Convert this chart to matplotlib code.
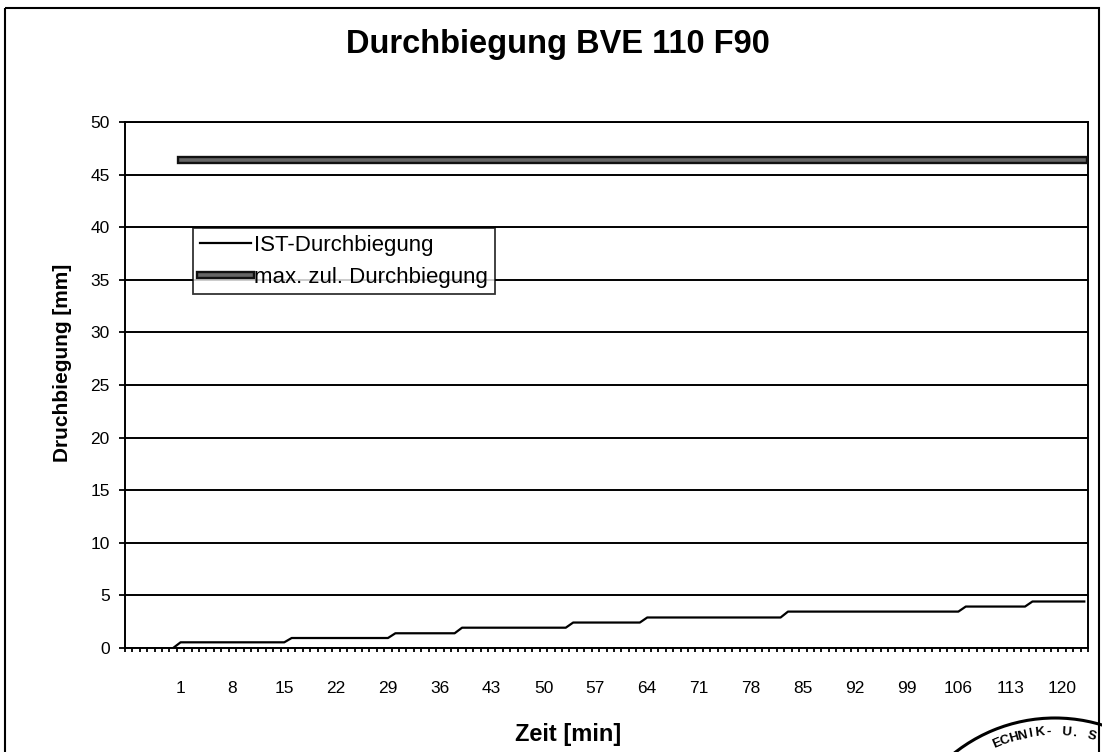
import numpy
import matplotlib
matplotlib.use("Agg")
import matplotlib.pyplot as plt
import matplotlib.patheffects as pe
from matplotlib.patches import Rectangle, Arc

plt.rcParams['font.family'] = ['Liberation Sans', 'DejaVu Sans']

#categories on the time axis (first 7 have no label)
lCategories = list(range(-6, 124))
lTickCats = list(range(1, 121, 7))
lTickLabels = [str(c) for c in lTickCats]

#measured deflection [mm], categories 0..123
lIstCats = list(range(0, 124))
lIstValues = [0.0,
	0.54, 0.54, 0.54, 0.54, 0.54, 0.54, 0.54, 0.54, 0.54, 0.54, 0.54, 0.54, 0.54, 0.54, 0.54,
	0.95, 0.95, 0.95, 0.95, 0.95, 0.95, 0.95, 0.95, 0.95, 0.95, 0.95, 0.95, 0.95, 0.95,
	1.40, 1.40, 1.40, 1.40, 1.40, 1.40, 1.40, 1.40, 1.40,
	1.93, 1.93, 1.93, 1.93, 1.93, 1.93, 1.93, 1.93, 1.93, 1.93, 1.93, 1.93, 1.93, 1.93, 1.93,
	2.42, 2.42, 2.42, 2.42, 2.42, 2.42, 2.42, 2.42, 2.42, 2.42,
	2.90, 2.90, 2.90, 2.90, 2.90, 2.90, 2.90, 2.90, 2.90, 2.90, 2.90, 2.90, 2.90, 2.90, 2.90, 2.90, 2.90, 2.90, 2.90,
	3.46, 3.46, 3.46, 3.46, 3.46, 3.46, 3.46, 3.46, 3.46, 3.46, 3.46, 3.46,
	3.46, 3.46, 3.46, 3.46, 3.46, 3.46, 3.46, 3.46, 3.46, 3.46, 3.46, 3.46,
	3.94, 3.94, 3.94, 3.94, 3.94, 3.94, 3.94, 3.94, 3.94,
	4.42, 4.42, 4.42, 4.42, 4.42, 4.42, 4.42, 4.42]

#allowed deflection [mm], categories 1..123
fMaxZul = 46.4
lMaxCats = list(range(1, 124))
lMaxValues = [fMaxZul] * len(lMaxCats)

W, H = 1102, 752
fig = plt.figure(figsize=(W / 100, H / 100), dpi=100)
ax = fig.add_axes([125 / W, 1 - 648 / H, (1088 - 125) / W, (648 - 122) / H])

ax.plot(lIstCats, lIstValues, color='black', lw=1.6, label='IST-Durchbiegung', zorder=3)
ax.plot(lMaxCats, lMaxValues, color='#666666', lw=2.6, label='max. zul. Durchbiegung', zorder=3,
	path_effects=[pe.Stroke(linewidth=6, foreground='#111111'), pe.Normal()])

ax.set_xlim(lCategories[0] - 0.5, lCategories[-1] + 0.5)
ax.set_ylim(0, 50)
ax.set_yticks(range(0, 51, 5))
ax.yaxis.grid(True, color='black', lw=1.4)
ax.set_axisbelow(True)

ax.set_xticks(lTickCats)
ax.set_xticklabels(lTickLabels)
ax.set_xticks(numpy.arange(lCategories[0] - 0.5, lCategories[-1] + 1, 1), minor=True)
ax.tick_params(axis='x', which='major', length=0, pad=24, labelsize=12.5)
ax.tick_params(axis='x', which='minor', length=3, width=1.3, direction='out')
ax.tick_params(axis='y', length=4, width=1.3, pad=7, labelsize=12.5)

for s in ax.spines.values():
	s.set_linewidth(1.4)
	s.set_color('black')

leg = ax.legend(loc='upper left', bbox_to_anchor=((193 - 125) / 963, 1 - (228 - 122) / 526),
	borderaxespad=0, fontsize=16, frameon=True, fancybox=False, handlelength=2.3,
	handletextpad=0.15, borderpad=0.3, labelspacing=0.5)
leg.get_frame().set_edgecolor('black')
leg.get_frame().set_linewidth(1.3)

fig.text(558 / W, 1 - 45 / H, 'Durchbiegung BVE 110 F90', ha='center', va='center',
	fontsize=23.5, fontweight='bold')
fig.text(568 / W, 1 - 735 / H, 'Zeit [min]', ha='center', va='center', fontsize=17, fontweight='bold')
fig.text(62 / W, 1 - 363 / H, 'Druchbiegung [mm]', ha='center', va='center', rotation=90,
	fontsize=15, fontweight='bold')

#overlay in pixel coordinates for the frame and the stamp
ov = fig.add_axes([0, 0, 1, 1], zorder=10)
ov.set_xlim(0, W)
ov.set_ylim(H, 0)
ov.axis('off')
ov.patch.set_alpha(0)
ov.add_patch(Rectangle((5, 8), 1094, 800, fill=False, edgecolor='black', lw=1.5))

cx, cy = 1055, 880
ov.add_patch(Arc((cx, cy), 2 * 162, 2 * 162, theta1=0, theta2=360, color='black', lw=2.2))
strStamp = 'ECHNIK- U. S'
for i, ch in enumerate(strStamp):
	ang = numpy.radians(-23 + i * 3.4)
	x = cx + 148 * numpy.sin(ang)
	y = cy - 148 * numpy.cos(ang)
	ov.text(x, y, ch, ha='center', va='center', rotation=-numpy.degrees(ang),
		fontsize=9.5, fontweight='bold')

fig.savefig('out.png', dpi=100)
